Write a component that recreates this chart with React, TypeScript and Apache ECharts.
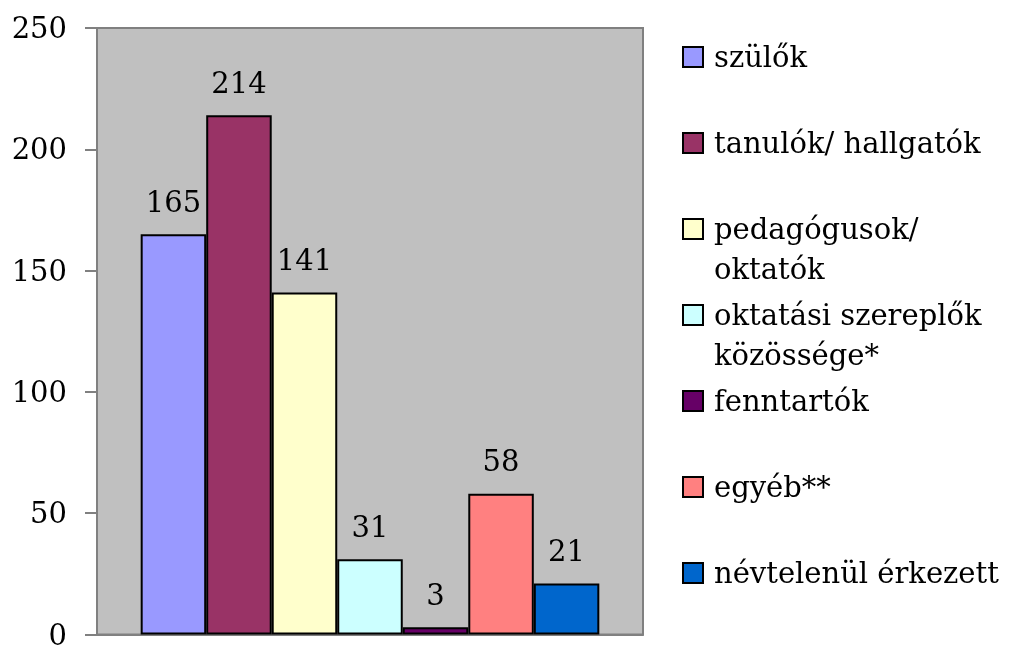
import React, { useEffect, useRef } from "react";
import * as echarts from "echarts";

const seriesNames = [
  "szülők",
  "tanulók/ hallgatók",
  "pedagógusok/\noktatók",
  "oktatási szereplők\nközössége*",
  "fenntartók",
  "egyéb**",
  "névtelenül érkezett",
];
const seriesValues = [165, 214, 141, 31, 3, 58, 21];
const seriesColors = ["#9999FF", "#993366", "#FFFFCC", "#CCFFFF", "#660066", "#FF8080", "#0066CC"];
const categories = [""];

const FONT = "DejaVu Serif";
const LH = 40;

export default function App() {
  const ref = useRef<HTMLDivElement>(null);
  useEffect(() => {
    if (!ref.current) return;
    const chart = echarts.init(ref.current, null, { renderer: "svg" });
    chart.setOption({
      animation: false,
      textStyle: { fontFamily: FONT },
      grid: {
        left: 97,
        right: 378,
        top: 28,
        bottom: 9,
        show: true,
        backgroundColor: "#C0C0C0",
        borderColor: "#808080",
        borderWidth: 2,
      },
      legend: {
        orient: "vertical",
        left: 682,
        top: -3,
        padding: 0,
        icon: "rect",
        itemGap: 86 - 3 * LH,
        itemWidth: 20,
        itemHeight: 20,
        selectedMode: false,
        formatter: (name: string) =>
          name.includes("\n") ? " \n" + name : " \n" + name + "\n ",
        textStyle: {
          fontFamily: FONT,
          fontSize: 29,
          color: "#000",
          lineHeight: LH,
          padding: [0, 0, 0, 6],
        },
        data: seriesNames,
      },
      xAxis: {
        type: "category",
        data: categories,
        axisLine: { show: true, lineStyle: { color: "#808080", width: 2 } },
        axisTick: { show: false },
        axisLabel: { show: false },
      },
      yAxis: {
        type: "value",
        min: 0,
        max: 250,
        interval: 50,
        axisLine: { show: true, lineStyle: { color: "#808080", width: 2 } },
        axisTick: { show: true, length: 12, lineStyle: { color: "#808080", width: 2 } },
        axisLabel: { margin: 30, fontFamily: FONT, fontSize: 29, color: "#000" },
        splitLine: { show: false },
      },
      series: seriesNames.map((n, i) => ({
        name: n,
        type: "bar",
        data: [seriesValues[i]],
        barGap: "0%",
        barCategoryGap: "16%",
        itemStyle: { color: seriesColors[i], borderColor: "#000", borderWidth: 2 },
        label: {
          show: true,
          position: "top",
          distance: 18,
          fontFamily: FONT,
          fontSize: 29,
          color: "#000",
        },
      })),
    });
    return () => chart.dispose();
  }, []);
  return (
    <div
      ref={ref}
      style={{ position: "fixed", left: 0, top: 0, width: 1021, height: 649 }}
    />
  );
}
